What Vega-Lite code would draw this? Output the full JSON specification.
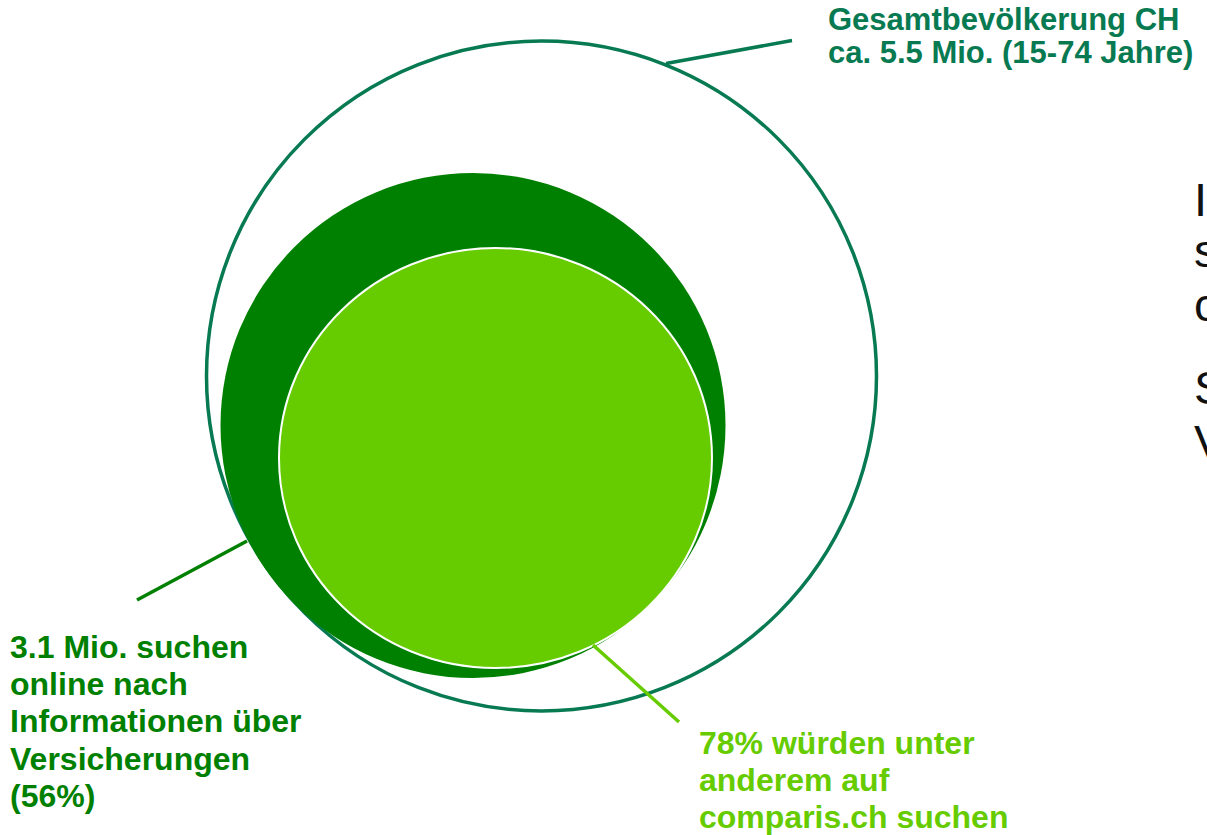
{
  "$schema": "https://vega.github.io/schema/vega-lite/v6.json",
  "width": 1207,
  "height": 835,
  "autosize": {"type": "fit", "contains": "padding"},
  "padding": 0,
  "background": "white",
  "config": {"view": {"stroke": null}},
  "datasets": {
    "circles": [
      {"name": "Gesamtbevölkerung CH", "cx": 541.5, "cy": 376},
      {"name": "Online-Suchende", "cx": 473, "cy": 425.5},
      {"name": "comparis.ch", "cx": 495.5, "cy": 458}
    ],
    "leaders": [
      {"name": "Gesamtbevölkerung CH", "x1": 666, "y1": 63.5, "x2": 792, "y2": 40.5},
      {"name": "Online-Suchende", "x1": 137, "y1": 600, "x2": 247, "y2": 541},
      {"name": "comparis.ch", "x1": 593, "y1": 645, "x2": 679, "y2": 722}
    ],
    "labels": [
      {"name": "Gesamtbevölkerung CH", "lx": 828, "ly": 30, "text": "Gesamtbevölkerung CH\nca. 5.5 Mio. (15-74 Jahre)"},
      {"name": "Online-Suchende", "lx": 10, "ly": 658, "text": "3.1 Mio. suchen\nonline nach\nInformationen über\nVersicherungen\n(56%)"},
      {"name": "comparis.ch", "lx": 699, "ly": 754, "text": "78% würden unter\nanderem auf\ncomparis.ch suchen"}
    ],
    "sidetext": [
      {"t": "I", "sx": 1194, "sy": 216},
      {"t": "s", "sx": 1194, "sy": 267},
      {"t": "c", "sx": 1194, "sy": 321},
      {"t": "S", "sx": 1194, "sy": 404},
      {"t": "V", "sx": 1194, "sy": 458}
    ]
  },
  "layer": [
    {
      "data": {"name": "circles"},
      "transform": [{"filter": "datum.name == 'Gesamtbevölkerung CH'"}],
      "mark": {"type": "point", "shape": "circle", "filled": false, "size": 448900, "strokeWidth": 3.5, "opacity": 1},
      "encoding": {
        "x": {"field": "cx", "type": "quantitative", "scale": {"domain": [0, 1207], "nice": false, "zero": false}, "axis": null},
        "y": {"field": "cy", "type": "quantitative", "scale": {"domain": [0, 835], "nice": false, "zero": false, "reverse": true}, "axis": null},
        "color": {"field": "name", "type": "nominal", "scale": {"domain": ["Gesamtbevölkerung CH", "Online-Suchende", "comparis.ch"], "range": ["#077A52", "#008000", "#66CC00"]}, "legend": null}
      }
    },
    {
      "data": {"name": "circles"},
      "transform": [{"filter": "datum.name == 'Online-Suchende'"}],
      "mark": {"type": "point", "shape": "circle", "filled": true, "size": 255025, "opacity": 1, "strokeWidth": 0},
      "encoding": {
        "x": {"field": "cx", "type": "quantitative", "axis": null},
        "y": {"field": "cy", "type": "quantitative", "axis": null},
        "color": {"field": "name", "type": "nominal", "legend": null}
      }
    },
    {
      "data": {"name": "circles"},
      "transform": [{"filter": "datum.name == 'comparis.ch'"}],
      "mark": {"type": "point", "shape": "M -1 0 A 1 0.97 0 1 1 1 0 A 1 0.97 0 1 1 -1 0 Z", "filled": true, "size": 187489, "opacity": 1, "stroke": "white", "strokeWidth": 2},
      "encoding": {
        "x": {"field": "cx", "type": "quantitative", "axis": null},
        "y": {"field": "cy", "type": "quantitative", "axis": null},
        "color": {"field": "name", "type": "nominal", "legend": null}
      }
    },
    {
      "data": {"name": "leaders"},
      "mark": {"type": "rule", "strokeWidth": 3.5, "strokeCap": "butt"},
      "encoding": {
        "x": {"field": "x1", "type": "quantitative", "axis": null},
        "y": {"field": "y1", "type": "quantitative", "axis": null},
        "x2": {"field": "x2"},
        "y2": {"field": "y2"},
        "color": {"field": "name", "type": "nominal", "legend": null}
      }
    },
    {
      "data": {"name": "labels"},
      "transform": [{"filter": "datum.name == 'Gesamtbevölkerung CH'"}],
      "mark": {"type": "text", "align": "left", "baseline": "alphabetic", "lineBreak": "\n", "font": "Liberation Sans", "fontWeight": "bold", "fontSize": 31, "lineHeight": 33},
      "encoding": {
        "x": {"field": "lx", "type": "quantitative", "axis": null},
        "y": {"field": "ly", "type": "quantitative", "axis": null},
        "text": {"field": "text", "type": "nominal"},
        "color": {"field": "name", "type": "nominal", "legend": null}
      }
    },
    {
      "data": {"name": "labels"},
      "transform": [{"filter": "datum.name != 'Gesamtbevölkerung CH'"}],
      "mark": {"type": "text", "align": "left", "baseline": "alphabetic", "lineBreak": "\n", "font": "Liberation Sans", "fontWeight": "bold", "fontSize": 32, "lineHeight": 37.2},
      "encoding": {
        "x": {"field": "lx", "type": "quantitative", "axis": null},
        "y": {"field": "ly", "type": "quantitative", "axis": null},
        "text": {"field": "text", "type": "nominal"},
        "color": {"field": "name", "type": "nominal", "legend": null}
      }
    },
    {
      "data": {"name": "sidetext"},
      "mark": {"type": "text", "align": "left", "baseline": "alphabetic", "font": "Liberation Sans", "fontSize": 47, "color": "#111111", "clip": true},
      "encoding": {
        "x": {"field": "sx", "type": "quantitative", "axis": null},
        "y": {"field": "sy", "type": "quantitative", "axis": null},
        "text": {"field": "t", "type": "nominal"}
      }
    }
  ]
}
